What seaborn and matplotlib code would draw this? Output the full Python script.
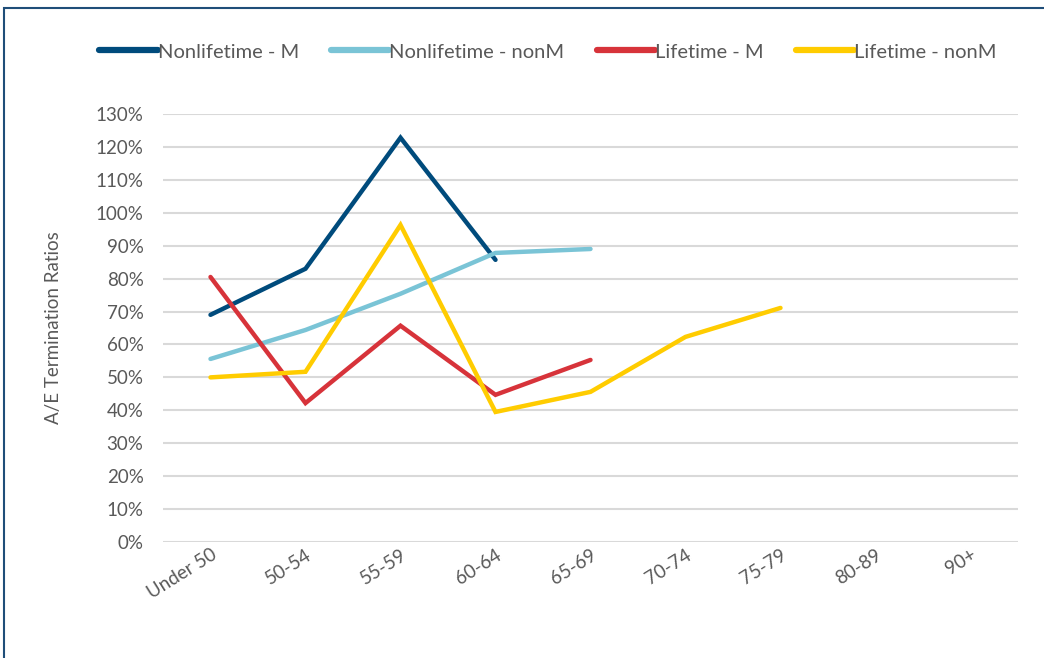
import matplotlib
matplotlib.use("Agg")
import matplotlib.pyplot as plt
from matplotlib.lines import Line2D
from matplotlib.patches import Rectangle
from matplotlib.ticker import PercentFormatter
import seaborn as sns
import numpy as np
import pandas as pd

# age bands on the x axis
age_bands = ["Under 50", "50-54", "55-59", "60-64", "65-69", "70-74", "75-79", "80-89", "90+"]

# A/E termination ratios (nan = no point)
nonlifetime_m = [0.69, 0.83, 1.228, 0.857, np.nan, np.nan, np.nan, np.nan, np.nan]
nonlifetime_nonm = [0.556, 0.644, 0.754, 0.878, 0.89, np.nan, np.nan, np.nan, np.nan]
lifetime_m = [0.805, 0.422, 0.657, 0.447, 0.553, np.nan, np.nan, np.nan, np.nan]
lifetime_nonm = [0.50, 0.517, 0.963, 0.395, 0.456, 0.623, 0.711, np.nan, np.nan]

series_names = ["Nonlifetime - M", "Nonlifetime - nonM", "Lifetime - M", "Lifetime - nonM"]
series_values = [nonlifetime_m, nonlifetime_nonm, lifetime_m, lifetime_nonm]
colors = ["#004b7c", "#7ac4d6", "#d7333a", "#ffcc00"]

rows = []
for name, vals in zip(series_names, series_values):
    for i, v in enumerate(vals):
        rows.append({"pos": i, "band": age_bands[i], "series": name, "ratio": v})
df = pd.DataFrame(rows).dropna()

sns.set_style("white")
plt.rcParams["font.family"] = ["Lato", "DejaVu Sans"]
text_col = "#595959"

fig = plt.figure(figsize=(10.44, 6.58), dpi=100)
ax = fig.add_axes([163 / 1044, 1 - 542 / 658, 855 / 1044, 428 / 658])

for name, col in zip(series_names, colors):
    sub = df[df["series"] == name]
    sns.lineplot(data=sub, x="pos", y="ratio", color=col, linewidth=3.2,
                 ax=ax, legend=False, solid_capstyle="round", solid_joinstyle="miter")

ax.set_xlim(-0.5, len(age_bands) - 0.5)
ax.set_ylim(0, 1.3)
ax.set_yticks(np.arange(0, 1.31, 0.1))
ax.yaxis.set_major_formatter(PercentFormatter(1.0, decimals=0))
ax.set_xticks(range(len(age_bands)))
ax.set_xticklabels(age_bands, rotation=32, ha="right", rotation_mode="anchor")
ax.grid(axis="y", color="#d9d9d9", linewidth=1.5)
ax.set_axisbelow(True)
for s in ax.spines.values():
    s.set_visible(False)
ax.tick_params(axis="y", length=0, pad=14, labelsize=13.5, labelcolor=text_col)
ax.tick_params(axis="x", length=0, pad=3, labelsize=13.5, labelcolor=text_col)
for lbl in ax.get_xticklabels():
    lbl.set_x(lbl.get_position()[0])
ax.set_xlabel("")
ax.set_ylabel("A/E Termination Ratios", fontsize=13.5, color=text_col, labelpad=24)

handles = [Line2D([0], [0], color=c, linewidth=4.5, solid_capstyle="round") for c in colors]
fig.legend(handles, series_names, loc="center", bbox_to_anchor=(0.525, 1 - 52 / 658),
           ncol=4, frameon=False, fontsize=14.5, labelcolor=text_col,
           handlelength=2.9, handletextpad=0.0, columnspacing=1.6)

# dark blue frame around the chart
fig.patches.append(Rectangle((3.5 / 1044, -0.05), 1.2, 1 - 7.5 / 658 + 0.05,
                             transform=fig.transFigure, fill=False,
                             edgecolor="#1f4e79", linewidth=1.5))

fig.savefig("out.png", dpi=100)
